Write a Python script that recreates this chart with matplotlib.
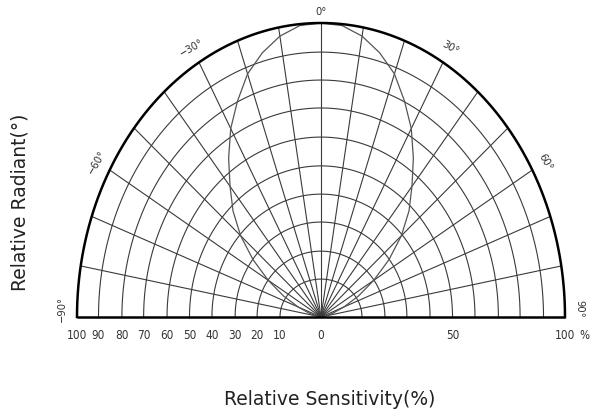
import numpy as np
import matplotlib
matplotlib.use("Agg")
import matplotlib.pyplot as plt

# ---- data ----
pattern_angles = [-90, -85, -80, -75, -70, -65, -60, -55, -50, -45, -40, -35, -30, -25, -20, -15, -10, -5,
                  0, 5, 10, 15, 20, 25, 30, 35, 40, 45, 50, 55, 60, 65, 70, 75, 80, 85, 90]
pattern_values = [0, 0.5, 2, 5, 10, 17, 25, 34, 43, 51, 58, 66, 74, 81, 88, 93, 97, 99.5,
                  100, 99.5, 97, 93, 88, 81, 74, 66, 58, 51, 43, 34, 25, 17, 10, 5, 2, 0.5, 0]
# grid rings (relative %) as drawn: horizontal and vertical extents
ring_h = [16.8, 26.2, 35.2, 44.7, 53.9, 63.1, 72.7, 81.6, 91.2, 100]
ring_v = [12.9, 22.4, 32.3, 41.8, 51.4, 61.2, 71.1, 80.6, 90.1, 100]
spoke_angles = list(range(-80, 90, 10))
left_labels = ["100", "90", "80", "70", "60", "50", "40", "30", "20", "10"]
angle_labels = ["−90°", "−60°", "−30°", "0°", "30°", "60°", "90°"]
angle_label_pos = [-90, -60, -30, 0, 30, 60, 90]

W, H = 592, 414
fig = plt.figure(figsize=(W / 100, H / 100), dpi=100)
ax = fig.add_axes([77 / W, (H - 318) / H, 488 / W, 294 / H])
ax.set_xlim(-100, 100)
ax.set_ylim(0, 100)
ax.axis("off")

narrow = dict(family=["DejaVu Sans"], fontstretch="condensed")
grid_c = "#3a3a3a"
txt_c = "#333333"

t = np.radians(np.linspace(-90, 90, 361))
# rings
for h, v in zip(ring_h[:-1], ring_v[:-1]):
    ax.plot(h * np.sin(t), v * np.cos(t), color=grid_c, lw=0.8, clip_on=False)
# spokes
for a in spoke_angles:
    ar = np.radians(a)
    ax.plot([0, 100 * np.sin(ar)], [0, 100 * np.cos(ar)], color=grid_c, lw=0.8, clip_on=False)
# pattern curve
pa = np.radians(pattern_angles)
pv = np.array(pattern_values)
ax.plot(pv * np.sin(pa), pv * np.cos(pa), color="#555555", lw=0.9, clip_on=False)
# outer ring and baseline
ax.plot(ring_h[-1] * np.sin(t), ring_v[-1] * np.cos(t), color="black", lw=1.8, clip_on=False)
ax.plot([-100, 100], [0, 0], color="black", lw=1.8, clip_on=False, solid_capstyle="butt")

# bottom tick labels
ly = -5.8
fs = 8.5
for lab, h in zip(left_labels, ring_h[::-1]):
    ax.text(-h, ly, lab, ha="center", va="center", fontsize=fs, color=txt_c, **narrow)
ax.text(0, ly, "0", ha="center", va="center", fontsize=fs, color=txt_c, **narrow)
ax.text(ring_h[4], ly, "50", ha="center", va="center", fontsize=fs, color=txt_c, **narrow)
ax.text(ring_h[9], ly, "100", ha="center", va="center", fontsize=fs, color=txt_c, **narrow)
ax.text(108, ly, "%", ha="center", va="center", fontsize=fs, color=txt_c, **narrow)

# angle labels
for lab, a in zip(angle_labels, angle_label_pos):
    ar = np.radians(a)
    r = 104 if a == 0 else 106
    x, y = r * np.sin(ar), r * np.cos(ar)
    if abs(a) == 90:
        y = 3
    ax.text(x, y, lab, ha="center", va="center", rotation=-a, fontsize=8,
            color=txt_c, clip_on=False, **narrow)

fig.text(330 / W, 1 - 400 / H, "Relative Sensitivity(%)", ha="center", va="center",
         fontsize=13.5, color="#222222")
fig.text(20 / W, 1 - 202 / H, "Relative Radiant(°)", ha="center", va="center",
         rotation=90, fontsize=13.5, color="#222222")

fig.savefig("out.png", dpi=100)
